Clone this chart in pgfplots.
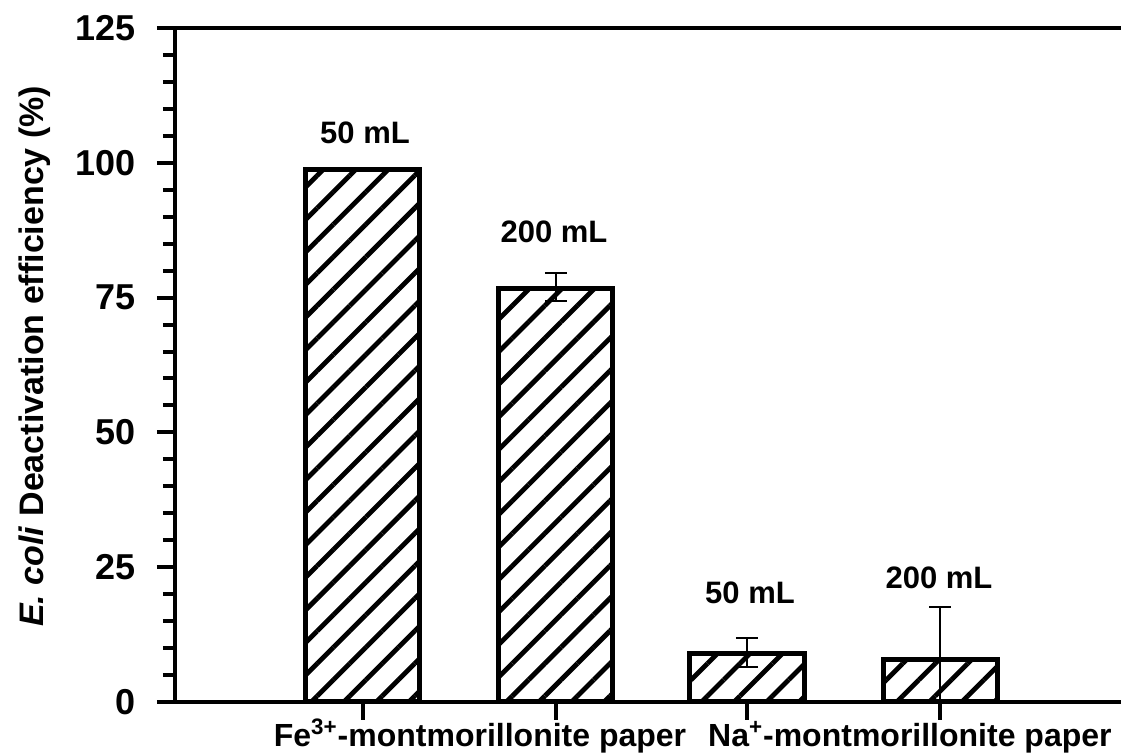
\documentclass[border=0pt]{standalone}
\usepackage{pgfplots}
\pgfplotsset{compat=1.18}
\usepackage{fontspec}
\setmainfont{Liberation Sans}
\usetikzlibrary{patterns.meta}
\begin{document}
\begin{tikzpicture}
\begin{axis}[
  at={(0,0)}, anchor=south west,
  scale only axis, width=473pt, height=337pt,
  xmin=175, xmax=1121, ymin=0, ymax=125,
  clip=false,
  axis lines=left,
  axis line style={-, line width=2pt},
  xtick={363,556,747,940}, xticklabels={},
  ytick={0,25,50,75,100,125},
  minor y tick num=4,
  tick align=outside,
  major tick length=9pt, minor tick length=6pt,
  every tick/.style={black, line width=2pt},
  ticklabel style={font=\bfseries\fontsize{18}{20}\selectfont},
  /pgf/number format/assume math mode=true,
  yticklabel style={xshift=-7pt},
  every axis y label/.style={at={(axis description cs:-0.148,0.513)}, rotate=90, anchor=center},
  ylabel={\bfseries\fontsize{17}{19}\selectfont\textit{E. coli} Deactivation efficiency (\%)},
]
\addplot[ybar, bar shift=0pt, bar width=114, draw=black, line width=2.5pt,
  pattern={Lines[angle=45,distance=11.5pt,line width=2.4pt]}]
  coordinates {(363,98.8)};
\addplot[ybar, bar shift=0pt, bar width=114, draw=black, line width=2.5pt,
  pattern={Lines[angle=45,distance=11.5pt,line width=2.4pt]},
  error bars/.cd, y dir=both, y explicit,
  error bar style={line width=1pt},
  error mark options={rotate=90, mark size=5.5pt, line width=1pt}]
  coordinates {(556,76.7) += (0,2.9) -= (0,2.3)
               (747,9.0) += (0,2.9) -= (0,2.5)
               (940,7.9) += (0,9.7) -= (0,7.9)};
\draw[line width=2pt] (axis cs:175,125) -- (axis cs:1121,125);
\begin{scope}[every node/.style={font=\bfseries\fontsize{15.5}{17}\selectfont}]
\node at (axis cs:365,105.5) {50 mL};
\node at (axis cs:554,87.2) {200 mL};
\node at (axis cs:750,20.2) {50 mL};
\node at (axis cs:939,23.0) {200 mL};
\end{scope}
\begin{scope}[every node/.style={font=\bfseries\fontsize{16}{18}\selectfont, inner sep=0pt}]
\node[anchor=base] at ([yshift=-22.5pt]axis cs:480,0) {Fe\textsuperscript{3+}-montmorillonite paper};
\node[anchor=base east] at ([yshift=-22.5pt]axis cs:1112,0) {Na\textsuperscript{+}-montmorillonite paper};
\end{scope}
\end{axis}
\pgfresetboundingbox
\path (-87.5pt,-25.5pt) rectangle (473pt,351pt);
\end{tikzpicture}
\end{document}
